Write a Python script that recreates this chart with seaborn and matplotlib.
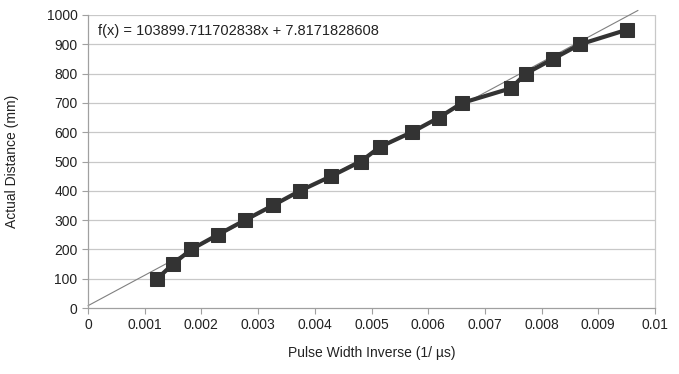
import numpy as np
import pandas as pd
import matplotlib
matplotlib.use('Agg')
import matplotlib.pyplot as plt
import seaborn as sns

# 측정값 (pulse width inverse vs actual distance)
pulse_inv = [0.00122, 0.00150, 0.00182, 0.00229, 0.00277, 0.00326, 0.00374, 0.00429,
             0.00481, 0.00515, 0.00571, 0.00619, 0.00660, 0.00746, 0.00772, 0.00820,
             0.00868, 0.00951]
distance = [100, 150, 200, 250, 300, 350, 400, 450, 500, 550, 600, 650, 700, 750,
            800, 850, 900, 950]

# 추세선 계수
slope = 103899.711702838
intercept = 7.8171828608
x_ticks = [0, 0.001, 0.002, 0.003, 0.004, 0.005, 0.006, 0.007, 0.008, 0.009, 0.01]
x_tick_labels = ['0', '0.001', '0.002', '0.003', '0.004', '0.005', '0.006', '0.007',
                 '0.008', '0.009', '0.01']
y_ticks = list(range(0, 1001, 100))

sns.set_style('white')
plt.rcParams['font.family'] = ['Liberation Sans', 'DejaVu Sans']

df = pd.DataFrame({'x': pulse_inv, 'y': distance})

fig = plt.figure(figsize=(6.79, 3.74), dpi=100)
ax = fig.add_axes([88 / 679, 1 - 308 / 374, (655 - 88) / 679, (308 - 15) / 374])

for yt in y_ticks[1:]:
    ax.axhline(yt, color='#c8c8c8', linewidth=0.9, zorder=0)

# 추세선
tx = np.array([0, 0.0097])
ax.plot(tx, slope * tx + intercept, color='#808080', linewidth=0.8, zorder=1, clip_on=False)

sns.lineplot(data=df, x='x', y='y', ax=ax, color='#333333', linewidth=3,
             marker='s', markersize=10, markeredgecolor='#333333', zorder=2)

ax.set_xlim(0, 0.01)
ax.set_ylim(0, 1000)
ax.set_xticks(x_ticks)
ax.set_xticklabels(x_tick_labels)
ax.set_yticks(y_ticks)
ax.tick_params(axis='both', labelsize=10, colors='#222222', length=4, width=0.8,
               direction='out', bottom=True, left=True)
ax.tick_params(axis='both', color='#a0a0a0')

for side in ['top', 'right']:
    ax.spines[side].set_visible(False)
for side in ['left', 'bottom']:
    ax.spines[side].set_color('#a0a0a0')
    ax.spines[side].set_linewidth(0.9)
ax.plot([1, 1], [0, 1], transform=ax.transAxes, color='#c8c8c8', linewidth=0.9, clip_on=False)

ax.set_xlabel('Pulse Width Inverse (1/ µs)', fontsize=10, color='#222222', labelpad=10)
ax.set_ylabel('Actual Distance (mm)', fontsize=10, color='#222222', labelpad=20)

ax.text(0.00017, 945, f'f(x) = {slope:.9f}x + {intercept:.10f}', fontsize=10.5,
        color='#222222', va='center', ha='left')

fig.savefig('out.png', dpi=100)
